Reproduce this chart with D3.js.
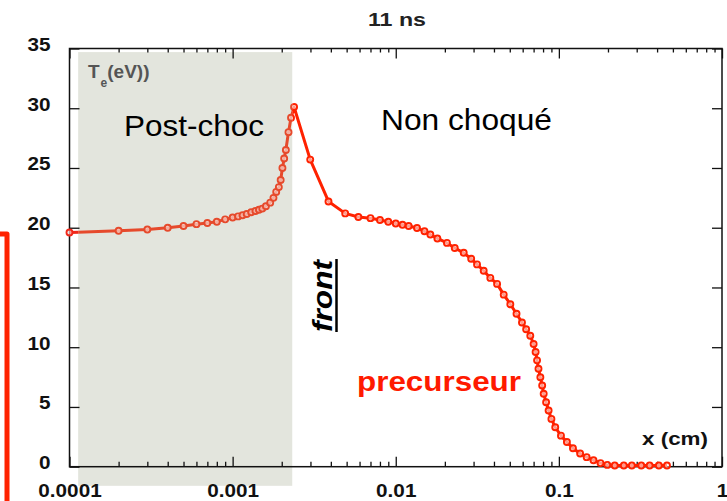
<!DOCTYPE html>
<html>
<head>
<meta charset="utf-8">
<script src="https://cdn.jsdelivr.net/npm/d3@7"></script>
<style>
  body { margin: 0; background: #fff; }
  svg { display: block; font-family: "Liberation Sans", Arial, sans-serif; }
</style>
</head>
<body>
<div id="chart"></div>
<script>
// x (cm) and Te (eV)
const xValues = [
  1.0e-4, 2.0e-4, 3.0e-4, 4.0e-4, 5.0e-4, 6.0e-4, 7.0e-4, 8.0e-4, 9.0e-4, 1.0e-3,
  1.08e-3, 1.15e-3, 1.22e-3, 1.3e-3, 1.38e-3, 1.45e-3, 1.52e-3, 1.6e-3, 1.7e-3, 1.78e-3,
  1.85e-3, 1.92e-3, 1.97e-3, 2.02e-3, 2.07e-3, 2.12e-3, 2.2e-3, 2.28e-3, 2.38e-3,
  2.99e-3, 3.87e-3, 4.9e-3, 5.9e-3, 7.0e-3, 8.0e-3, 9.0e-3, 1.0e-2, 1.1e-2, 1.2e-2,
  1.35e-2, 1.5e-2, 1.63e-2, 1.8e-2, 2.06e-2, 2.3e-2, 2.61e-2, 2.9e-2, 3.15e-2, 3.46e-2,
  3.8e-2, 4.18e-2, 4.59e-2, 5.04e-2, 5.5e-2, 5.94e-2, 6.3e-2, 6.68e-2, 7.0e-2, 7.2e-2,
  7.35e-2, 7.5e-2, 7.7e-2, 7.9e-2, 8.07e-2, 8.35e-2, 8.65e-2, 9.0e-2, 9.5e-2, 0.103,
  0.112, 0.122, 0.135, 0.148, 0.163, 0.18, 0.198, 0.22, 0.25, 0.28, 0.32, 0.36, 0.41, 0.46
];
const teValues = [
  19.6, 19.75, 19.85, 20.0, 20.15, 20.3, 20.4, 20.5, 20.7, 20.85,
  20.95, 21.05, 21.15, 21.3, 21.4, 21.5, 21.6, 21.8, 22.1, 22.5,
  23.0, 23.4, 24.0, 25.0, 25.8, 26.5, 28.0, 29.2, 30.1,
  25.7, 22.2, 21.2, 20.9, 20.8, 20.65, 20.5, 20.35, 20.25, 20.15,
  19.98, 19.7, 19.43, 19.1, 18.73, 18.3, 17.9, 17.4, 16.93, 16.4,
  15.8, 15.3, 14.4, 13.6, 12.8, 12.07, 11.5, 10.96, 10.27, 9.6,
  8.9, 8.2, 7.48, 6.8, 6.1, 5.4, 4.7, 4.0, 3.3, 2.6,
  2.07, 1.55, 1.1, 0.8, 0.54, 0.3, 0.15, 0.1, 0.1, 0.1, 0.1, 0.1, 0.1, 0.1
];
const yTicks = [0, 5, 10, 15, 20, 25, 30, 35];
const xDecades = [1e-4, 1e-3, 1e-2, 1e-1, 1];
const xDecadeLabels = ["0.0001", "0.001", "0.01", "0.1", "1"];
// post-shock zone (shaded box), in data units
const shadeX = [1.13e-4, 2.32e-3];
const shadeY = [-1.6, 34.7];

const width = 727, height = 501;
const margin = { top: 48.5, right: 5, bottom: 34.3, left: 69.5 };

const svg = d3.select("#chart").append("svg")
  .attr("width", width).attr("height", height);

const x = d3.scaleLog().domain([1e-4, 1]).range([margin.left, width - margin.right]);
const y = d3.scaleLinear().domain([0, 35]).range([height - margin.bottom, margin.top]);

const data = xValues.map((v, i) => ({ x: v, te: teValues[i] }));

// shaded post-shock region
svg.append("rect")
  .attr("x", x(shadeX[0]))
  .attr("y", y(shadeY[1]))
  .attr("width", x(shadeX[1]) - x(shadeX[0]))
  .attr("height", y(shadeY[0]) - y(shadeY[1]))
  .attr("fill", "#e3e5dd");

// minor + major ticks on all four sides
const minor = x.ticks().filter((t) => !xDecades.includes(t));
const plotH = y(0) - y(35);
const plotW = x(1) - x(1e-4);

function fitText(sel, factor) {
  sel.each(function () {
    const len = this.getComputedTextLength();
    d3.select(this).attr("textLength", len * factor).attr("lengthAdjust", "spacingAndGlyphs");
  });
}

const gBottom = svg.append("g").attr("transform", `translate(0,${y(0)})`);
gBottom.call(d3.axisBottom(x).tickValues(minor).tickSize(-5).tickSizeOuter(0).tickFormat(""));
gBottom.append("g").call(
  d3.axisBottom(x).tickValues(xDecades).tickSize(-10).tickSizeOuter(0).tickPadding(18)
    .tickFormat((d, i) => xDecadeLabels[i])
);

const gTop = svg.append("g").attr("transform", `translate(0,${y(35)})`);
gTop.call(d3.axisTop(x).tickValues(minor).tickSize(-4).tickSizeOuter(0).tickFormat(""));
gTop.append("g").call(d3.axisTop(x).tickValues(xDecades).tickSize(-10).tickSizeOuter(0).tickFormat(""));

const gLeft = svg.append("g").attr("transform", `translate(${x(1e-4)},0)`);
gLeft.call(d3.axisLeft(y).tickValues(yTicks).tickSize(-10).tickSizeOuter(0).tickPadding(19));

const gRight = svg.append("g").attr("transform", `translate(${x(1)},0)`);
gRight.call(d3.axisRight(y).tickValues(yTicks).tickSize(-10).tickSizeOuter(0).tickFormat(""));

svg.selectAll(".domain").remove();
svg.selectAll(".tick line").attr("stroke", "#111").attr("stroke-width", 1.3);
svg.selectAll(".tick text")
  .attr("fill", "#111")
  .style("font-size", "18px")
  .style("font-weight", "bold");
gLeft.selectAll(".tick text").attr("dy", "0.1em");
fitText(svg.selectAll(".tick text"), 1.15);

// frame
svg.append("rect")
  .attr("x", x(1e-4)).attr("y", y(35))
  .attr("width", plotW).attr("height", plotH)
  .attr("fill", "none").attr("stroke", "#111").attr("stroke-width", 1.5);

// curve: muted inside the pasted shaded box, bright red outside
svg.append("clipPath").attr("id", "inShade").append("rect")
  .attr("x", x(shadeX[0])).attr("y", 0)
  .attr("width", x(shadeX[1]) - x(shadeX[0])).attr("height", height);
svg.append("clipPath").attr("id", "outShade").append("rect")
  .attr("x", x(shadeX[1])).attr("y", 0)
  .attr("width", width).attr("height", height);
svg.append("clipPath").attr("id", "leftEdge").append("rect")
  .attr("x", 0).attr("y", 0)
  .attr("width", x(shadeX[0])).attr("height", height);

const line = d3.line().x((d) => x(d.x)).y((d) => y(d.te));

function drawCurve(clipId, color) {
  const g = svg.append("g").attr("clip-path", `url(#${clipId})`);
  g.append("path")
    .datum(data)
    .attr("d", line)
    .attr("fill", "none")
    .attr("stroke", color)
    .attr("stroke-width", 3)
    .attr("stroke-linejoin", "round");
  g.selectAll("circle")
    .data(data)
    .join("circle")
    .attr("cx", (d) => x(d.x))
    .attr("cy", (d) => y(d.te))
    .attr("r", 3)
    .attr("fill", "#fff")
    .attr("fill-opacity", 0.55)
    .attr("stroke", color)
    .attr("stroke-width", 1.9);
}
drawCurve("leftEdge", "#f0281a");
drawCurve("inShade", "#e64a2c");
drawCurve("outShade", "#ff2200");

// texts
function label(txt, px, py, opts) {
  const t = svg.append("text")
    .attr("x", px).attr("y", py)
    .attr("text-anchor", opts.anchor || "start")
    .attr("fill", opts.color || "#000")
    .style("font-size", opts.size + "px")
    .style("font-weight", opts.weight || "normal")
    .style("font-style", opts.style || "normal")
    .text(txt);
  if (opts.len) t.attr("textLength", opts.len).attr("lengthAdjust", "spacingAndGlyphs");
  return t;
}

label("11 ns", 397, 26, { size: 18, weight: "bold", anchor: "middle", len: 58, color: "#222" });

const te = svg.append("text").attr("x", 88).attr("y", 78)
  .attr("fill", "#555").style("font-size", "19px").style("font-weight", "bold");
te.append("tspan").text("T");
te.append("tspan").attr("dx", 1).attr("dy", 9).style("font-size", "12px").text("e");
te.append("tspan").attr("dy", -9).text("(eV))");

label("Post-choc", 124, 136, { size: 29, len: 140 });
label("Non choqué", 381, 130, { size: 30, len: 171 });
label("precurseur", 357, 391, { size: 28, weight: "bold", color: "#ff1a00", len: 164 });
label("x (cm)", 642, 445, { size: 19, weight: "bold", color: "#111", len: 66 });

// rotated, underlined "front"
const front = svg.append("g").attr("transform", "translate(332,332) rotate(-90)");
front.append("text")
  .attr("x", 0).attr("y", 0)
  .style("font-size", "27px").style("font-weight", "bold").style("font-style", "italic")
  .attr("textLength", 72).attr("lengthAdjust", "spacingAndGlyphs")
  .text("front");
front.append("line")
  .attr("x1", 0).attr("x2", 73).attr("y1", 4.5).attr("y2", 4.5)
  .attr("stroke", "#000").attr("stroke-width", 2.5);

// red bracket on the left edge
svg.append("path")
  .attr("d", "M0,234 H7 V501")
  .attr("fill", "none")
  .attr("stroke", "#ff2200")
  .attr("stroke-width", 5)
  .attr("stroke-linejoin", "round");
</script>
</body>
</html>
